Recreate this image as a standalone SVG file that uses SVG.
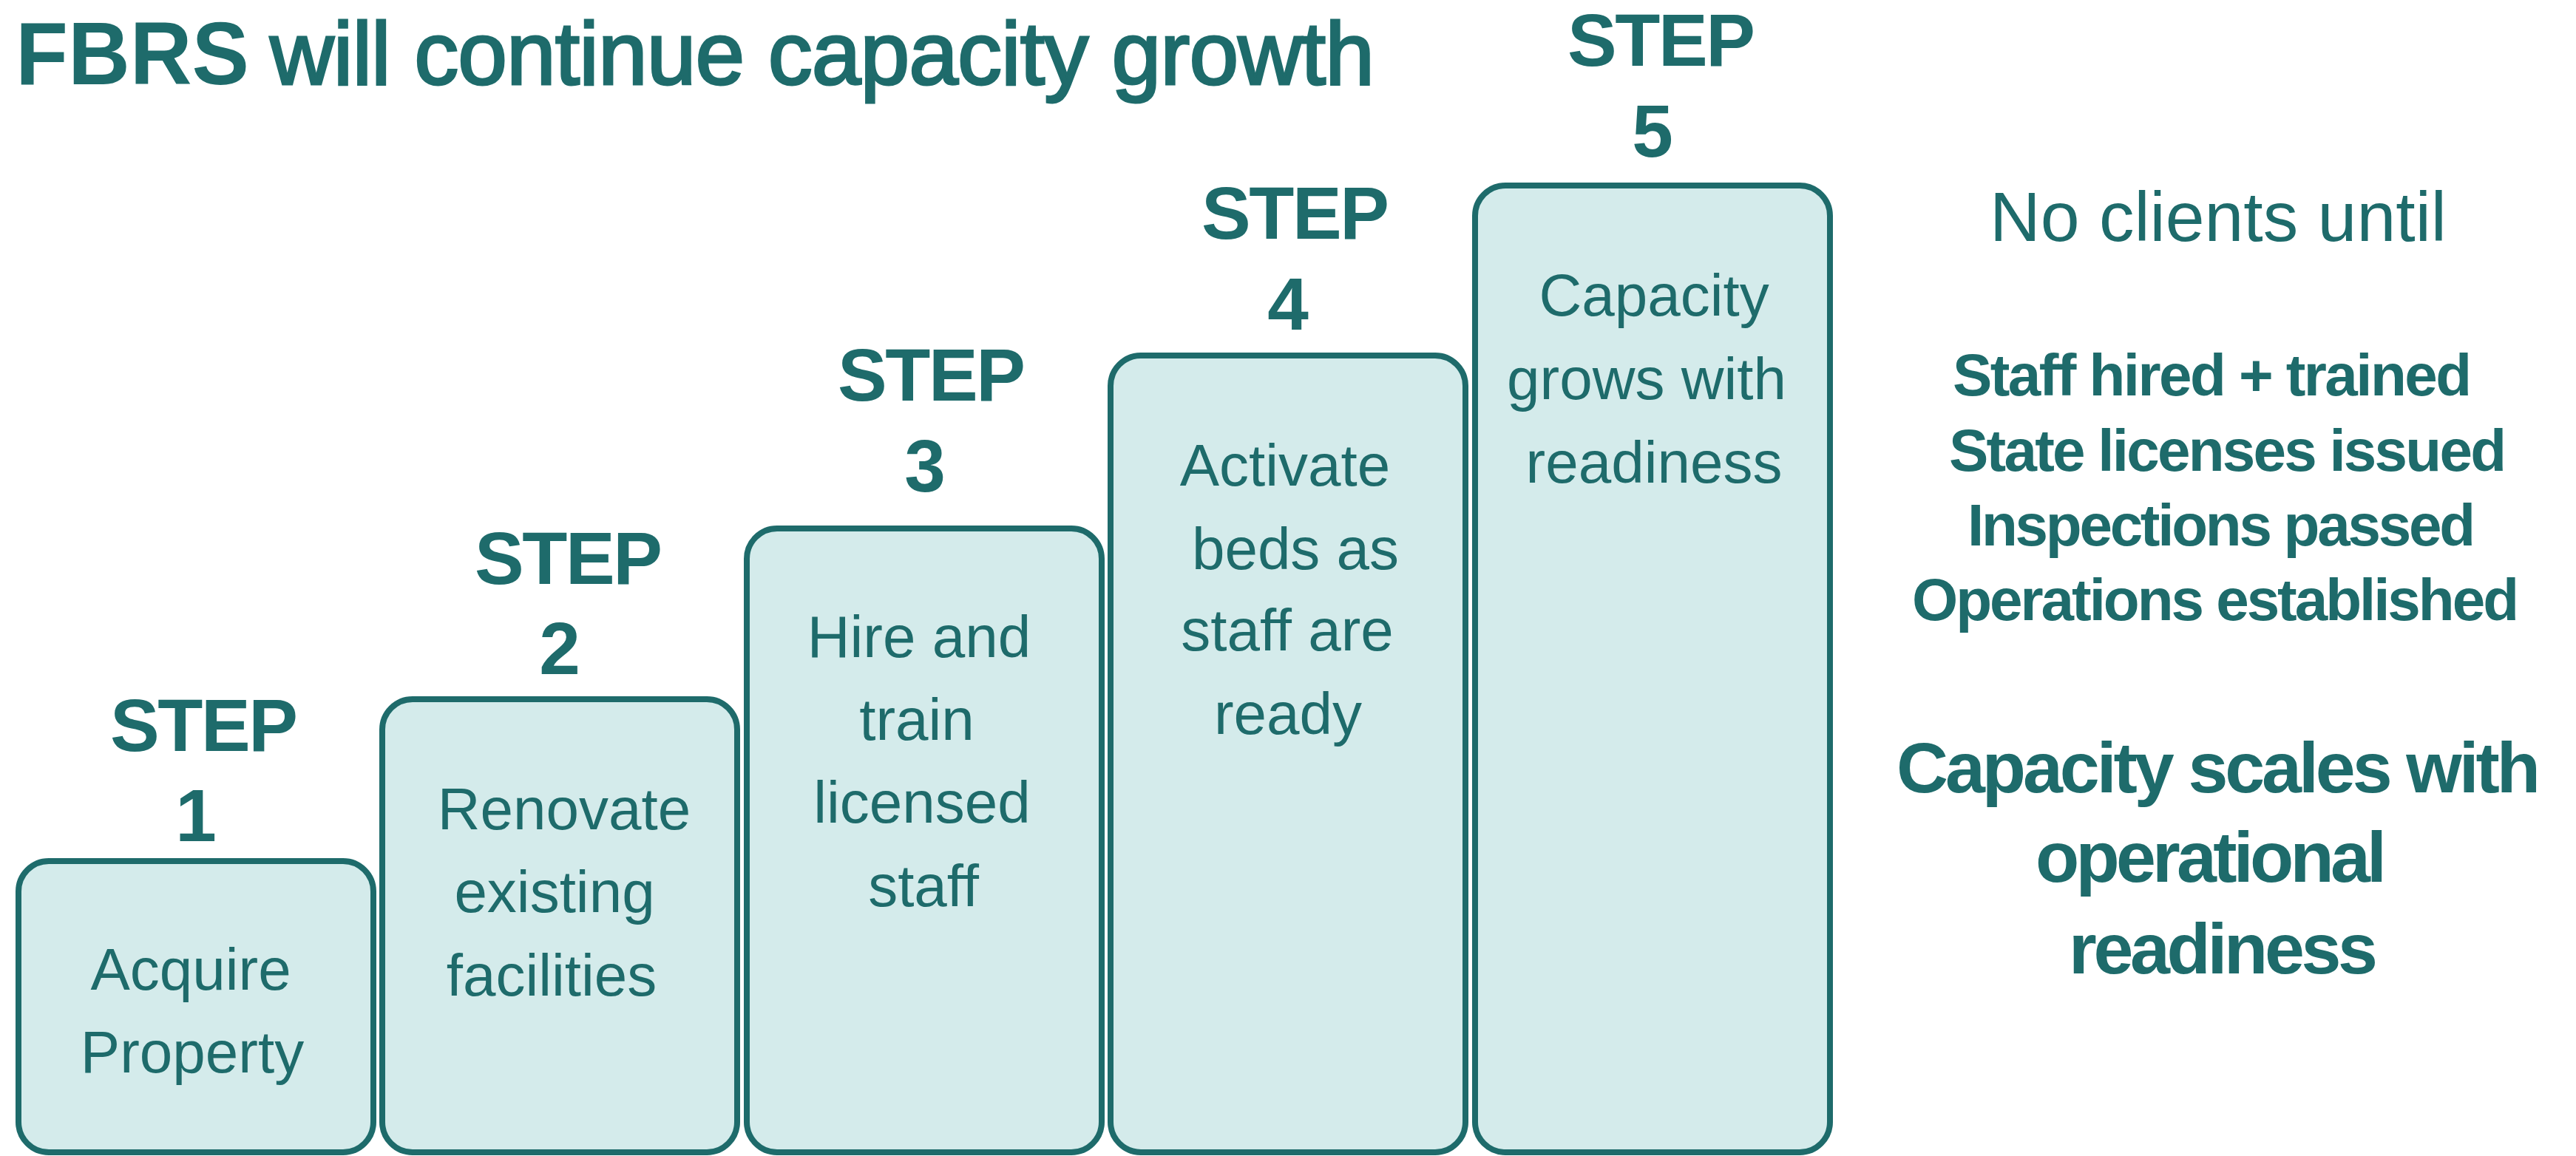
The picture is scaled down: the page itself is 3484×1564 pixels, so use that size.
<svg xmlns="http://www.w3.org/2000/svg" width="3484" height="1564" viewBox="0 0 3484 1564">
<style>
.bg{fill:#ffffff}
.box{fill:#d4ebeb;stroke:#1e6b6b;stroke-width:8}
text{font-family:"Liberation Sans",Arial,sans-serif;fill:#1e6b6b}
.step{font-size:100px;font-weight:bold;text-anchor:middle}
.body{font-size:80px;text-anchor:middle}
.title-b{font-size:120px;font-weight:bold}
.title-r{font-size:120px;stroke:#1e6b6b;stroke-width:3}
.note{font-size:95px;text-anchor:middle}
.list{font-size:80px;font-weight:bold}
.big{font-size:97px;font-weight:bold}
</style>
<rect class="bg" x="0" y="0" width="3484" height="1564"/>
<g id="title">
<text class="title-b" x="21" y="114" textLength="316" lengthAdjust="spacingAndGlyphs">FBRS</text>
<text class="title-r" x="365" y="114" textLength="1494" lengthAdjust="spacing">will continue capacity growth</text>
</g>
<g id="connectors"></g>
<g id="step1">
<rect class="box" x="25" y="1165" width="480" height="394" rx="41" ry="41"/>
<text class="step" x="276" y="1016" textLength="254" lengthAdjust="spacing">STEP</text>
<text class="step" x="265" y="1138">1</text>
<text class="body" x="258" y="1339">Acquire</text>
<text class="body" x="260" y="1451">Property</text>
</g>
<g id="step2">
<rect class="box" x="517" y="946" width="480" height="613" rx="41" ry="41"/>
<text class="step" x="769" y="790" textLength="254" lengthAdjust="spacing">STEP</text>
<text class="step" x="757" y="912">2</text>
<text class="body" x="763" y="1122">Renovate</text>
<text class="body" x="750" y="1234">existing</text>
<text class="body" x="746" y="1347">facilities</text>
</g>
<g id="step3">
<rect class="box" x="1010" y="715" width="480" height="844" rx="41" ry="41"/>
<text class="step" x="1260" y="542" textLength="254" lengthAdjust="spacing">STEP</text>
<text class="step" x="1251" y="665">3</text>
<text class="body" x="1243" y="889">Hire and</text>
<text class="body" x="1240" y="1001">train</text>
<text class="body" x="1247" y="1113">licensed</text>
<text class="body" x="1249" y="1226">staff</text>
</g>
<g id="step4">
<rect class="box" x="1502" y="481" width="480" height="1078" rx="41" ry="41"/>
<text class="step" x="1752" y="323" textLength="254" lengthAdjust="spacing">STEP</text>
<text class="step" x="1742" y="446">4</text>
<text class="body" x="1738" y="657">Activate</text>
<text class="body" x="1752" y="770">beds as</text>
<text class="body" x="1741" y="880">staff are</text>
<text class="body" x="1742" y="993">ready</text>
</g>
<g id="step5">
<rect class="box" x="1995" y="251" width="480" height="1308" rx="41" ry="41"/>
<text class="step" x="2247" y="89" textLength="254" lengthAdjust="spacing">STEP</text>
<text class="step" x="2235" y="212">5</text>
<text class="body" x="2237" y="427">Capacity</text>
<text class="body" x="2227" y="540">grows with</text>
<text class="body" x="2237" y="653">readiness</text>
</g>
<g id="notes">
<text class="note" x="3000" y="326">No clients until</text>
<text class="list" x="2641" y="535" textLength="702" lengthAdjust="spacing">Staff hired + trained</text>
<text class="list" x="2636" y="637" textLength="754" lengthAdjust="spacing">State licenses issued</text>
<text class="list" x="2661" y="738" textLength="687" lengthAdjust="spacing">Inspections passed</text>
<text class="list" x="2586" y="839" textLength="821" lengthAdjust="spacing">Operations established</text>
<text class="big" x="2565" y="1072" textLength="871" lengthAdjust="spacing">Capacity scales with</text>
<text class="big" x="2753" y="1193" textLength="475" lengthAdjust="spacing">operational</text>
<text class="big" x="2798" y="1317" textLength="418" lengthAdjust="spacing">readiness</text>
</g>
</svg>
